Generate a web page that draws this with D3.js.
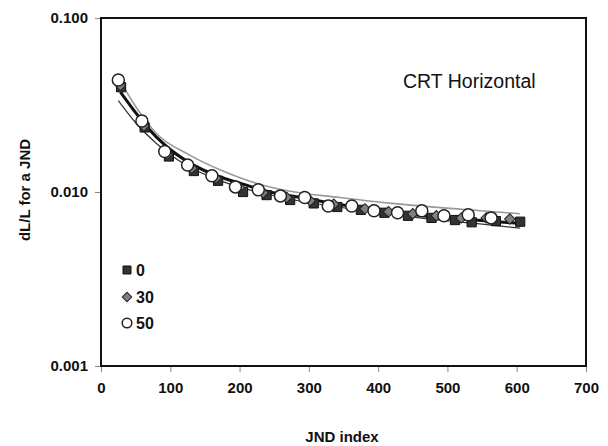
<!DOCTYPE html>
<html><head><meta charset="utf-8">
<script src="https://cdn.jsdelivr.net/npm/d3@7"></script>
<style>body{margin:0;background:#fff;} svg{display:block;font-family:"Liberation Sans",Arial,sans-serif;}</style>
</head><body>
<svg id="c" width="608" height="446"></svg>
<script>
// ---- data ----
const xTicks = [0, 100, 200, 300, 400, 500, 600, 700];
const yTicks = [0.001, 0.01, 0.1];
const yTickLabels = ["0.001", "0.010", "0.100"];
const seriesNames = ["0", "30", "50"];

const idx0 = [29, 63, 98, 134, 169, 205, 239, 273, 307, 341, 375, 409, 443, 477, 511, 535, 570, 605];
const val0 = [0.040, 0.0235, 0.0160, 0.0132, 0.0116, 0.0100, 0.0096, 0.0090, 0.0086, 0.0082, 0.0079, 0.0076, 0.0073, 0.0071, 0.0069, 0.0067, 0.0068, 0.00675];

const idx30 = [28, 62, 96, 131, 166, 200, 234, 268, 302, 336, 381, 415, 450, 484, 520, 556, 590];
const val30 = [0.041, 0.024, 0.0165, 0.0137, 0.0120, 0.0106, 0.0099, 0.0093, 0.0089, 0.0085, 0.0080, 0.0077, 0.0075, 0.0073, 0.0071, 0.0071, 0.0070];

const idx50 = [25, 59, 92, 125, 160, 194, 227, 259, 294, 328, 362, 394, 428, 463, 495, 530, 563];
const val50 = [0.044, 0.0256, 0.0171, 0.0143, 0.0124, 0.0107, 0.0103, 0.0095, 0.0093, 0.0083, 0.0083, 0.0078, 0.0076, 0.0078, 0.0073, 0.0074, 0.0071];

// fitted curves
const upperIdx = [30, 50, 80, 128, 176, 225, 273, 345, 420, 530, 605];
const upperVal = [0.042, 0.031, 0.0217, 0.0163, 0.0132, 0.0112, 0.0101, 0.0093, 0.0086, 0.0079, 0.0075];
const midIdx = [28, 47, 66, 95, 128, 167, 205, 244, 282, 321, 359, 420, 480, 540, 605];
const midVal = [0.0375, 0.0296, 0.0237, 0.0182, 0.0147, 0.0124, 0.0111, 0.0100, 0.0094, 0.0088, 0.0083, 0.0077, 0.0072, 0.0069, 0.0066];
const lowerIdx = [25, 50, 80, 120, 170, 230, 300, 380, 460, 540, 605];
const lowerVal = [0.0335, 0.0250, 0.0190, 0.0145, 0.0117, 0.0099, 0.0087, 0.0078, 0.0071, 0.0066, 0.0062];

// ---- layout ----
const L = 101, R = 586, T = 18, B = 366;
const svg = d3.select("#c");
const x = d3.scaleLinear().domain([0, 700]).range([L, R]);
const y = d3.scaleLog().domain([0.001, 0.1]).range([B, T]);

// axes
const xAxis = d3.axisBottom(x).tickValues(xTicks).tickSize(6).tickPadding(10).tickFormat(d3.format("d"));
const gx = svg.append("g").attr("transform", `translate(0,${B})`).call(xAxis);
gx.select(".domain").remove();
gx.selectAll("line").attr("stroke", "#888");
gx.selectAll("text").attr("font-size", 15).attr("font-weight", "bold").attr("fill", "#111");

const yAxis = d3.axisLeft(y).tickValues(yTicks).tickSize(6).tickPadding(7).tickFormat((d, i) => yTickLabels[i]);
const gy = svg.append("g").attr("transform", `translate(${L},0)`).call(yAxis);
gy.select(".domain").remove();
gy.selectAll("line").attr("stroke", "#888");
gy.selectAll("text").attr("font-size", 15).attr("font-weight", "bold").attr("fill", "#111");

// frame
svg.append("rect").attr("x", L).attr("y", T).attr("width", R - L).attr("height", B - T)
  .attr("fill", "none").attr("stroke", "#111").attr("stroke-width", 2);

// curves
const mk = (a, b) => a.map((v, i) => [v, b[i]]);
const lineGen = d3.line().x(d => x(d[0])).y(d => y(d[1])).curve(d3.curveMonotoneX);
svg.append("path").attr("d", lineGen(mk(upperIdx, upperVal))).attr("fill", "none").attr("stroke", "#999").attr("stroke-width", 1.6);
svg.append("path").attr("d", lineGen(mk(lowerIdx, lowerVal))).attr("fill", "none").attr("stroke", "#333").attr("stroke-width", 1.2);
svg.append("path").attr("d", lineGen(mk(midIdx, midVal))).attr("fill", "none").attr("stroke", "#111").attr("stroke-width", 3);

// markers
const sq = d3.symbol().type(d3.symbolSquare).size(85);
const di = d3.symbol().type(d3.symbolSquare).size(55);
svg.append("g").selectAll("path").data(mk(idx0, val0)).join("path")
  .attr("d", sq).attr("transform", d => `translate(${x(d[0])},${y(d[1])})`)
  .attr("fill", "#333").attr("stroke", "#111").attr("stroke-width", 1);
svg.append("g").selectAll("path").data(mk(idx30, val30)).join("path")
  .attr("d", di).attr("transform", d => `translate(${x(d[0])},${y(d[1])}) rotate(45)`)
  .attr("fill", "#808080").attr("stroke", "#222").attr("stroke-width", 1);
svg.append("g").selectAll("circle").data(mk(idx50, val50)).join("circle")
  .attr("cx", d => x(d[0])).attr("cy", d => y(d[1])).attr("r", 6)
  .attr("fill", "#fff").attr("stroke", "#222").attr("stroke-width", 1.5);

// title inside
svg.append("text").attr("x", 403).attr("y", 88).attr("font-size", 19.5).attr("fill", "#111").text("CRT Horizontal");

// legend
const lg = svg.append("g");
const ly = [270, 297, 323];
const lsq = d3.symbol().type(d3.symbolSquare).size(64);
const ldi = d3.symbol().type(d3.symbolSquare).size(45);
lg.append("path").attr("d", lsq).attr("transform", `translate(127,${ly[0]})`).attr("fill", "#333").attr("stroke", "#111");
lg.append("path").attr("d", ldi).attr("transform", `translate(127,${ly[1]}) rotate(45)`).attr("fill", "#808080").attr("stroke", "#222");
lg.append("circle").attr("cx", 127).attr("cy", ly[2]).attr("r", 4.8).attr("fill", "#fff").attr("stroke", "#222").attr("stroke-width", 1.5);
seriesNames.forEach((n, i) => lg.append("text").attr("x", 136).attr("y", ly[i] + 6).attr("font-size", 16)
  .attr("font-weight", "bold").attr("fill", "#111").text(n));

// axis titles
svg.append("text").attr("x", 342).attr("y", 442).attr("text-anchor", "middle").attr("font-size", 15)
  .attr("font-weight", "bold").attr("fill", "#111").text("JND index");
svg.append("text").attr("transform", "translate(30,190) rotate(-90)").attr("text-anchor", "middle").attr("font-size", 15)
  .attr("font-weight", "bold").attr("fill", "#111").text("dL/L for a JND");
</script>
</body></html>
